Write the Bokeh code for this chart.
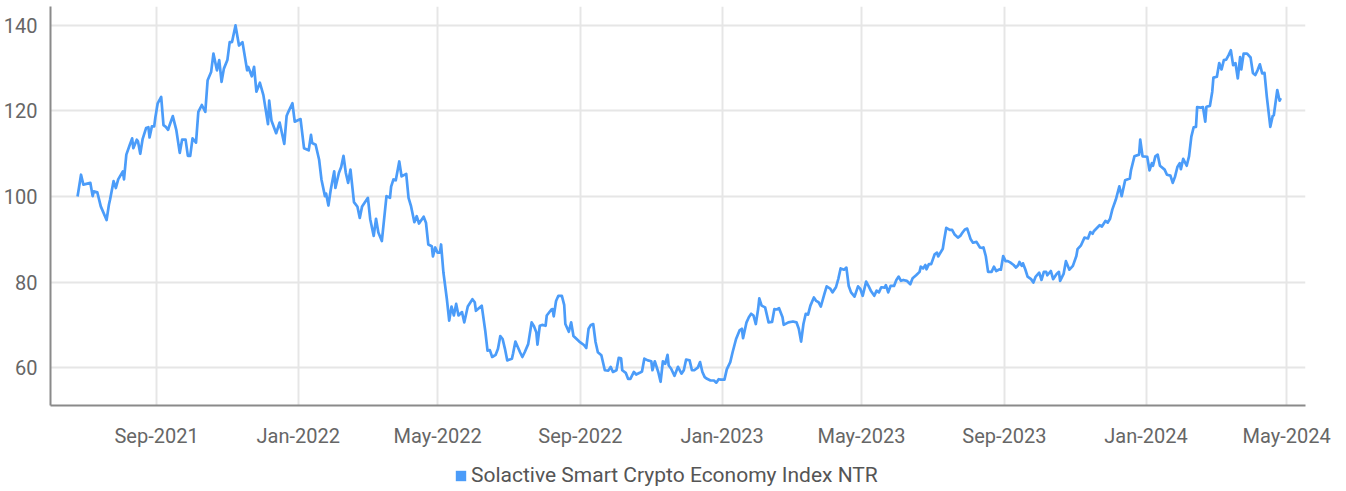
from datetime import datetime
import pandas as pd
from bokeh.plotting import figure
from bokeh.layouts import column
from bokeh.models import (ColumnDataSource, Range1d, FixedTicker, DatetimeTickFormatter,
                          Legend, LegendItem)
from bokeh.embed import file_html
from bokeh.resources import INLINE

series_name = "Solactive Smart Crypto Economy Index NTR"

dates = [
"2021-06-25","2021-06-28","2021-06-30","2021-07-06","2021-07-08","2021-07-09","2021-07-12","2021-07-15","2021-07-20","2021-07-22",
"2021-07-23","2021-07-26","2021-07-28","2021-07-30","2021-08-03","2021-08-04","2021-08-06","2021-08-09","2021-08-11","2021-08-12",
"2021-08-15","2021-08-16","2021-08-18","2021-08-20","2021-08-23","2021-08-25","2021-08-26","2021-08-28","2021-08-30","2021-08-31",
"2021-09-02","2021-09-05","2021-09-07","2021-09-09","2021-09-11","2021-09-12","2021-09-15","2021-09-18","2021-09-21","2021-09-23",
"2021-09-26","2021-09-28","2021-09-30","2021-10-02","2021-10-05","2021-10-07","2021-10-10","2021-10-13","2021-10-15","2021-10-18",
"2021-10-20","2021-10-23","2021-10-25","2021-10-27","2021-10-29","2021-11-01","2021-11-03","2021-11-05","2021-11-08","2021-11-11",
"2021-11-14","2021-11-18","2021-11-19","2021-11-22","2021-11-24","2021-11-26","2021-11-29","2021-12-02","2021-12-06","2021-12-07",
"2021-12-09","2021-12-13","2021-12-16","2021-12-20","2021-12-22","2021-12-23","2021-12-27","2021-12-29","2022-01-03","2022-01-06",
"2022-01-10","2022-01-12","2022-01-13","2022-01-16","2022-01-19","2022-01-21","2022-01-24","2022-01-25","2022-01-27","2022-01-29",
"2022-02-01","2022-02-02","2022-02-05","2022-02-07","2022-02-09","2022-02-11","2022-02-13","2022-02-15","2022-02-18","2022-02-21",
"2022-02-23","2022-02-25","2022-03-02","2022-03-04","2022-03-07","2022-03-09","2022-03-11","2022-03-14","2022-03-18","2022-03-21",
"2022-03-22","2022-03-24","2022-03-26","2022-03-29","2022-03-31","2022-04-04","2022-04-06","2022-04-08","2022-04-11","2022-04-13",
"2022-04-15","2022-04-19","2022-04-21","2022-04-23","2022-04-26","2022-04-27","2022-04-29","2022-05-01","2022-05-03","2022-05-04",
"2022-05-06","2022-05-09","2022-05-11","2022-05-13","2022-05-15","2022-05-17","2022-05-19","2022-05-22","2022-05-24","2022-05-27",
"2022-05-31","2022-06-02","2022-06-03","2022-06-08","2022-06-11","2022-06-13","2022-06-15","2022-06-17","2022-06-20","2022-06-22",
"2022-06-24","2022-06-26","2022-06-28","2022-06-30","2022-07-04","2022-07-05","2022-07-07","2022-07-11","2022-07-13","2022-07-15",
"2022-07-18","2022-07-21","2022-07-23","2022-07-25","2022-07-26","2022-07-28","2022-07-30","2022-08-02","2022-08-03","2022-08-07",
"2022-08-08","2022-08-09","2022-08-11","2022-08-13","2022-08-16","2022-08-18","2022-08-19","2022-08-22","2022-08-24","2022-08-26",
"2022-08-31","2022-09-04","2022-09-06","2022-09-08","2022-09-10","2022-09-12","2022-09-14","2022-09-16","2022-09-19","2022-09-22",
"2022-09-25","2022-09-27","2022-09-29","2022-10-02","2022-10-04","2022-10-06","2022-10-07","2022-10-10","2022-10-12","2022-10-14",
"2022-10-17","2022-10-19","2022-10-22","2022-10-24","2022-10-26","2022-10-29","2022-11-01","2022-11-02","2022-11-04","2022-11-07",
"2022-11-09","2022-11-11","2022-11-13","2022-11-15","2022-11-16","2022-11-18","2022-11-21","2022-11-24","2022-11-27","2022-11-29",
"2022-12-01","2022-12-04","2022-12-06","2022-12-08","2022-12-11","2022-12-13","2022-12-15","2022-12-17","2022-12-19","2022-12-22",
"2022-12-25","2022-12-27","2022-12-29","2022-12-31","2023-01-03","2023-01-05","2023-01-08","2023-01-10","2023-01-13","2023-01-16",
"2023-01-18","2023-01-19","2023-01-22","2023-01-24","2023-01-26","2023-01-28","2023-01-30","2023-02-01","2023-02-02","2023-02-04",
"2023-02-07","2023-02-10","2023-02-13","2023-02-15","2023-02-17","2023-02-19","2023-02-22","2023-02-23","2023-02-27","2023-03-03",
"2023-03-06","2023-03-08","2023-03-10","2023-03-12","2023-03-14","2023-03-16","2023-03-18","2023-03-21","2023-03-23","2023-03-25",
"2023-03-27","2023-03-30","2023-04-01","2023-04-04","2023-04-06","2023-04-09","2023-04-11","2023-04-13","2023-04-16","2023-04-18",
"2023-04-20","2023-04-22","2023-04-25","2023-04-28","2023-04-30","2023-05-02","2023-05-05","2023-05-07","2023-05-09","2023-05-12",
"2023-05-14","2023-05-16","2023-05-18","2023-05-21","2023-05-22","2023-05-24","2023-05-26","2023-05-29","2023-05-31","2023-06-02",
"2023-06-04","2023-06-06","2023-06-09","2023-06-12","2023-06-14","2023-06-17","2023-06-20","2023-06-21","2023-06-23","2023-06-25",
"2023-06-26","2023-06-28","2023-06-30","2023-07-03","2023-07-05","2023-07-06","2023-07-10","2023-07-11","2023-07-13","2023-07-16",
"2023-07-18","2023-07-20","2023-07-23","2023-07-25","2023-07-27","2023-07-29","2023-07-31","2023-08-03","2023-08-05","2023-08-08",
"2023-08-11","2023-08-13","2023-08-14","2023-08-16","2023-08-18","2023-08-21","2023-08-23","2023-08-25","2023-08-28","2023-08-29",
"2023-08-31","2023-09-02","2023-09-04","2023-09-06","2023-09-09","2023-09-11","2023-09-13","2023-09-14","2023-09-16","2023-09-17",
"2023-09-19","2023-09-21","2023-09-24","2023-09-26","2023-09-28","2023-10-01","2023-10-03","2023-10-05","2023-10-07","2023-10-08",
"2023-10-11","2023-10-13","2023-10-16","2023-10-18","2023-10-19","2023-10-22","2023-10-24","2023-10-27","2023-10-30","2023-11-02",
"2023-11-03","2023-11-06","2023-11-09","2023-11-12","2023-11-14","2023-11-16","2023-11-17","2023-11-22","2023-11-24","2023-11-27",
"2023-11-29","2023-12-01","2023-12-03","2023-12-06","2023-12-09","2023-12-11","2023-12-14","2023-12-18","2023-12-19","2023-12-22",
"2023-12-26","2023-12-27","2023-12-29","2024-01-02","2024-01-04","2024-01-06","2024-01-07","2024-01-09","2024-01-11","2024-01-13",
"2024-01-17","2024-01-19","2024-01-22","2024-01-24","2024-01-26","2024-01-28","2024-01-30","2024-01-31","2024-02-02","2024-02-05",
"2024-02-07","2024-02-09","2024-02-11","2024-02-13","2024-02-14","2024-02-17","2024-02-19","2024-02-21","2024-02-22","2024-02-25",
"2024-02-27","2024-02-28","2024-03-02","2024-03-04","2024-03-06","2024-03-08","2024-03-10","2024-03-12","2024-03-14","2024-03-16",
"2024-03-18","2024-03-20","2024-03-22","2024-03-23","2024-03-25","2024-03-28","2024-03-31","2024-04-02","2024-04-04","2024-04-06",
"2024-04-08","2024-04-10","2024-04-12","2024-04-14","2024-04-17","2024-04-19","2024-04-20","2024-04-23","2024-04-25","2024-04-26",
]

index_values = [
100.0,105.1,102.8,103.2,100.1,101.2,101.0,97.7,94.5,98.1,
99.3,103.6,102.0,104.0,105.9,104.0,109.8,112.1,113.6,111.3,
113.3,112.9,110.0,113.4,116.0,116.2,113.8,116.4,116.4,118.5,
121.8,123.3,116.7,116.3,115.6,116.5,118.8,115.6,110.2,113.3,
113.3,109.5,109.5,113.6,112.6,119.8,121.4,119.8,127.2,129.1,
133.4,129.5,131.9,126.8,129.9,131.9,136.1,136.1,140.0,135.3,
136.1,129.5,130.3,128.1,130.3,124.5,126.6,123.7,116.9,122.4,
117.7,114.8,117.3,112.3,118.8,119.5,121.8,117.5,118.1,111.3,
110.8,114.4,112.5,112.1,108.6,104.0,100.1,100.7,97.9,101.6,
105.9,102.0,105.5,106.9,109.5,105.5,103.2,106.3,98.7,97.6,
95.0,97.7,99.7,94.7,90.8,94.8,91.6,89.6,100.1,99.7,
102.3,104.0,103.8,108.2,104.7,105.3,99.7,97.9,94.0,95.4,
93.7,95.3,93.9,88.8,88.4,86.0,88.1,86.9,86.9,88.8,
82.3,76.0,71.0,74.3,72.2,74.9,72.2,73.0,70.6,74.3,
76.0,75.3,73.3,74.5,68.7,64.0,64.1,62.5,63.0,64.4,
67.4,66.7,64.4,61.7,62.1,63.3,66.1,63.6,62.5,63.6,
65.5,70.6,69.7,68.3,65.4,69.8,70.0,69.8,72.2,73.6,
73.7,72.0,75.6,76.8,76.8,74.7,70.2,68.4,70.6,67.4,
66.1,65.3,64.6,69.1,70.0,70.2,66.0,63.6,62.9,59.4,
59.3,60.2,59.0,59.4,62.3,62.2,59.4,58.8,57.4,57.4,
59.0,58.4,58.8,59.1,62.1,61.7,61.5,59.4,61.5,59.0,
56.7,61.5,60.9,63.0,60.5,59.8,58.1,60.2,58.6,59.4,
61.9,61.7,59.4,59.4,60.0,61.3,59.0,57.8,57.4,57.0,
57.0,56.5,57.3,57.2,57.2,59.6,61.3,63.6,66.7,68.7,
69.1,66.9,70.6,71.8,72.6,72.2,70.2,73.7,76.2,74.5,
74.1,70.6,70.7,73.7,73.6,73.9,71.8,70.0,70.6,70.8,
70.6,69.1,66.1,70.2,72.6,72.4,74.5,76.4,75.6,75.3,
74.3,77.2,79.0,78.5,77.6,78.8,80.7,83.2,82.9,83.4,
79.1,77.6,76.6,79.0,78.4,76.8,80.1,79.1,78.0,76.8,
78.0,77.6,78.8,78.7,79.3,77.6,79.1,79.1,80.5,81.3,
80.3,80.5,80.3,79.5,80.9,81.6,82.4,83.6,83.2,84.0,
83.0,84.2,84.2,86.5,86.9,86.0,87.8,89.6,92.7,92.2,
92.2,91.2,90.4,90.8,91.6,92.3,92.5,90.0,89.2,89.4,
88.1,88.0,88.1,86.1,82.4,82.4,83.6,82.6,83.0,82.9,
86.1,84.9,84.9,84.6,84.0,83.4,84.0,84.7,83.8,84.4,
83.0,81.3,80.7,79.9,81.3,82.2,80.5,82.4,82.4,81.6,
82.6,80.7,81.9,82.4,80.3,81.9,84.9,82.9,83.8,86.1,
87.7,88.6,90.4,90.2,91.7,91.3,91.9,93.3,93.0,94.3,
93.9,94.8,97.0,99.3,102.4,100.1,103.8,104.2,106.1,109.4,
109.8,113.3,109.4,109.3,106.1,107.8,107.2,109.4,109.8,107.2,
106.3,105.1,104.9,103.2,104.7,106.9,107.8,106.4,108.8,107.2,
109.4,114.0,116.2,116.3,120.9,120.8,120.9,117.5,121.0,121.2,
124.5,127.8,128.0,131.2,129.7,131.9,132.0,133.0,134.2,130.7,
131.2,127.6,132.6,129.7,133.4,133.4,132.5,128.9,128.4,129.5,
130.9,128.8,128.9,123.3,116.3,118.8,119.0,124.9,122.4,123.0,
]

y_ticks = [60, 80, 100, 120, 140]
x_tick_dates = ["2021-09-01", "2022-01-01", "2022-05-01", "2022-09-01", "2023-01-01",
                "2023-05-01", "2023-09-01", "2024-01-01", "2024-05-01"]

LINE_COLOR = "#4b9cf9"
FONT = "Roboto"
W = 1346

src = ColumnDataSource(data=dict(date=pd.to_datetime(dates), value=index_values))

p = figure(width=W, height=450, x_axis_type="datetime",
           output_backend="svg", toolbar_location=None,
           x_range=Range1d(datetime(2021, 6, 1, 17), datetime(2024, 5, 17, 7)),
           y_range=Range1d(51.16, 144.42),
           min_border_left=47, min_border_right=41, min_border_top=6, min_border_bottom=43)
p.outline_line_color = None
p.background_fill_color = "white"
p.border_fill_color = "white"

p.line("date", "value", source=src, line_color=LINE_COLOR, line_width=2.7, line_join="round")

tick_ms = [pd.Timestamp(d).timestamp() * 1000 for d in x_tick_dates]
p.xaxis.ticker = FixedTicker(ticks=tick_ms)
fmt = "%b-%Y"
p.xaxis.formatter = DatetimeTickFormatter(days=fmt, months=fmt, years=fmt, hours=fmt,
                                          minutes=fmt, seconds=fmt, milliseconds=fmt,
                                          microseconds=fmt, minsec=fmt, hourmin=fmt)
p.yaxis.ticker = FixedTicker(ticks=y_ticks)

for ax in (p.xaxis, p.yaxis):
    ax.axis_line_color = "#8a8a8a"
    ax.axis_line_width = 2
    ax.major_tick_line_color = None
    ax.minor_tick_line_color = None
    ax.major_label_text_font = FONT
    ax.major_label_text_font_size = "20px"
    ax.major_label_text_color = "#666666"
p.xaxis.major_label_standoff = 12
p.yaxis.major_label_standoff = 7

p.xgrid.grid_line_color = "#e6e6e6"
p.xgrid.grid_line_width = 2
p.ygrid.grid_line_color = "#e6e6e6"
p.ygrid.grid_line_width = 2

# legend strip below the chart
lf = figure(width=W, height=41, output_backend="svg", toolbar_location=None,
            x_range=Range1d(0, 1), y_range=Range1d(0, 1),
            x_axis_location=None, y_axis_location=None,
            min_border_left=0, min_border_right=0, min_border_top=0, min_border_bottom=0)
lf.grid.visible = False
lf.outline_line_color = None
lf.border_fill_color = "white"
lf.background_fill_color = "white"
# legend-only renderer: a single NaN bar that draws nothing but provides the key swatch
leg_src = ColumnDataSource(data=dict(x=[float("nan")], top=[float("nan")]))
sq = lf.vbar(x="x", top="top", width=1, source=leg_src, fill_color=LINE_COLOR, line_color=None)
legend = Legend(items=[LegendItem(label=series_name, renderers=[sq])],
                location=(404, 4), orientation="horizontal",
                border_line_color=None, background_fill_alpha=0,
                label_text_font=FONT, label_text_font_size="21px", label_text_color="#555555",
                glyph_width=13, glyph_height=13, label_standoff=4, padding=0, margin=0,
                label_height=20)
lf.add_layout(legend, "center")

layout = column(p, lf, spacing=0)
open("out.html", "w").write(file_html(layout, INLINE))
